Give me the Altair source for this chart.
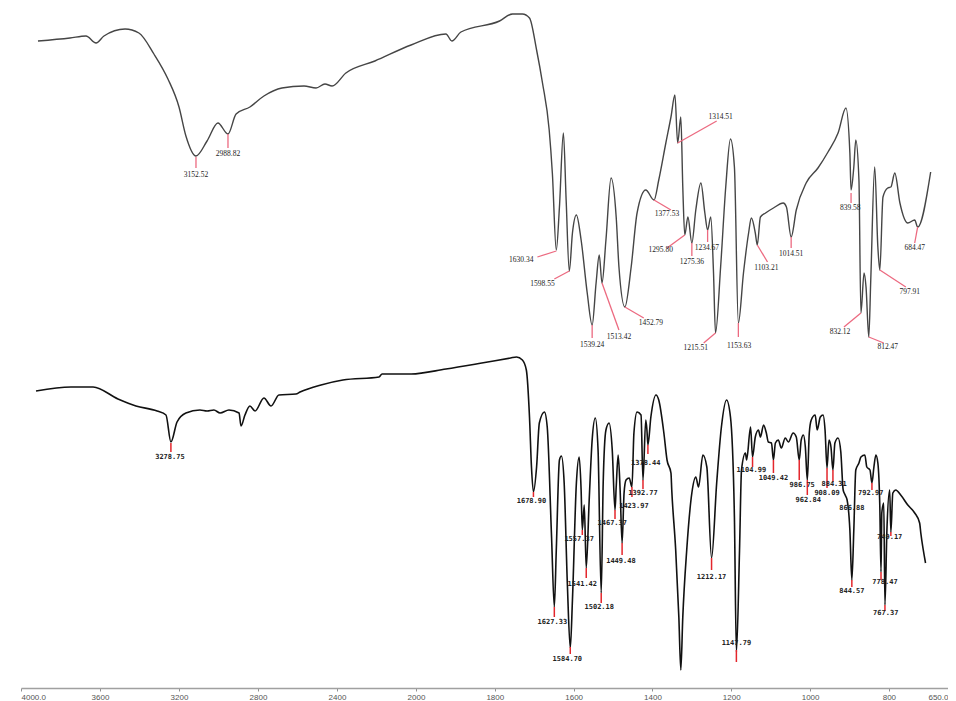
import altair as alt
import pandas as pd

# ---------------- spectra (wavenumber cm-1, transmittance a.u.) ----------------
top_wn = [3914, 3752, 3671, 3620, 3580, 3473, 3403, 3327, 3256, 3200, 3165, 3114, 3058, 3003, 2952,
          2911, 2841, 2770, 2679, 2567, 2506, 2461, 2425, 2355, 2208, 2025, 1924, 1909, 1886, 1788,
          1755, 1730, 1712, 1694, 1679, 1662, 1654, 1644, 1636, 1626, 1619, 1611, 1603, 1593, 1581,
          1565.5, 1553, 1543, 1535, 1528, 1518, 1505, 1492, 1485, 1470, 1454, 1439, 1417, 1396, 1384,
          1366, 1353, 1343, 1336, 1328, 1323, 1318, 1310, 1300, 1290, 1277, 1267, 1260, 1252, 1245,
          1240, 1227, 1214, 1202, 1192, 1182, 1169, 1156, 1149, 1139, 1134, 1126, 1113, 1093, 1068,
          1060, 1048, 1035, 1010, 980, 954.5, 929, 909, 899, 896, 889, 884, 876, 871, 863,
          858, 851, 846, 836, 828, 823, 815, 803, 795, 785, 772, 752, 734.5, 727, 694]
top_t = [647, 650, 652, 645, 652, 659, 655, 634, 609, 581, 552, 532, 547, 565, 554,
         574, 581, 592, 600, 602, 600, 604, 602, 615, 627, 643, 654, 647, 656, 667,
         674, 674, 670, 638, 605, 558, 515, 438, 481, 555, 488, 417, 455, 473, 448,
         395, 363, 405, 433, 405, 448, 510, 471, 421, 381, 421, 475, 498, 488, 508,
         545, 571, 593, 545, 571, 501, 453, 471, 445, 478, 505, 475, 458, 471, 415,
         355, 421, 501, 549, 521, 365, 415, 455, 470, 455, 443, 471, 475, 480, 485,
         481, 451, 478, 505, 520, 536, 555, 580, 535, 498, 521, 548, 508, 375, 415,
         401, 351, 408, 521, 441, 418, 491, 500, 501, 515, 485, 465, 468, 461, 516]

bot_wn = [3924, 3747, 3635, 3509, 3418, 3311, 3266, 3241, 3210, 3165, 3094, 3058, 3023, 2992, 2947,
          2896, 2886, 2866, 2841, 2815, 2770, 2734, 2694, 2608, 2587, 2481, 2370, 2187, 2172, 2025,
          1924, 1833, 1760, 1745, 1730, 1720, 1712, 1707, 1702, 1694, 1687, 1674, 1667, 1656, 1649,
          1644, 1636, 1631, 1624, 1616, 1608.5, 1603, 1593, 1586, 1581, 1578, 1573, 1568, 1560.5, 1553,
          1545, 1538, 1530, 1525, 1518, 1510, 1502, 1495, 1492, 1487, 1482, 1477, 1472, 1467, 1459,
          1452, 1447, 1439, 1429, 1424, 1417, 1414, 1411.5, 1404, 1391, 1384, 1371, 1363, 1353, 1351,
          1341, 1333, 1328, 1323, 1313, 1300, 1290, 1283, 1272, 1262, 1250, 1237, 1225, 1212, 1202,
          1192, 1187, 1179, 1174, 1164, 1161, 1151, 1146, 1139, 1131, 1126, 1118, 1111, 1106, 1098,
          1093, 1088, 1080.6, 1073, 1063, 1055, 1043, 1035, 1027.5, 1022.5, 1017, 1012, 1007, 1002, 997,
          987, 982, 974, 967, 962, 957, 952, 947, 942, 937, 929, 922, 916, 911, 906,
          899, 894, 889, 884, 876, 871, 861, 856, 848, 843, 838, 833, 828, 823, 820,
          818, 813, 810, 805, 798, 795, 790, 782.5, 770, 752, 734.5, 722, 719, 707]
bot_t = [297, 301, 301, 289, 282, 277, 273, 246, 266, 275, 278, 277, 278, 275, 278,
         275, 262, 273, 282, 277, 290, 282, 293, 294, 296, 303, 308, 311, 314, 314,
         319, 325, 330, 331, 328, 318, 271, 221, 196, 221, 265, 276, 261, 151, 81,
         138, 228, 232, 205, 105, 40, 88, 205, 231, 198, 158, 183, 120, 188, 248,
         270, 238, 95, 205, 258, 265, 238, 178, 201, 233, 198, 145, 195, 208, 210,
         201, 255, 276, 273, 208, 268, 258, 243, 271, 293, 288, 255, 228, 215, 198,
         138, 71, 18, 71, 138, 195, 211, 201, 233, 221, 130, 205, 261, 288, 271,
         171, 36, 138, 218, 235, 228, 261, 231, 251, 258, 251, 263, 255, 246, 245,
         228, 245, 248, 240, 250, 246, 255, 251, 228, 248, 253, 241, 208, 255, 268,
         273, 258, 271, 273, 258, 220, 248, 241, 218, 245, 250, 236, 198, 193, 188,
         158, 108, 158, 218, 225, 231, 233, 221, 218, 205, 221, 233, 225, 181, 116,
         175, 185, 83, 158, 198, 156, 195, 198, 193, 183, 175, 165, 155, 125]

# ---------------- peak annotations ----------------
peak_labels = ["3152.52", "2988.82", "1630.34", "1598.55", "1539.24", "1513.42", "1452.79",
               "1377.53", "1314.51", "1295.80", "1275.36", "1234.67", "1215.51", "1153.63",
               "1103.21", "1014.51", "839.58", "832.12", "812.47", "797.91", "684.47",
               "3278.75", "1678.90", "1627.33", "1584.70", "1557.37", "1541.42", "1502.18",
               "1467.37", "1449.48", "1423.97", "1392.77", "1378.44", "1212.17", "1147.79",
               "1104.99", "1049.42", "986.75", "962.84", "908.09", "884.31", "866.88",
               "844.57", "792.97", "778.47", "767.37", "749.17"]
peak_panel = ["top"] * 21 + ["bottom"] * 26
peak_wn = [3114, 2952, 1644, 1611, 1553, 1528, 1470, 1396, 1336, 1318, 1300, 1260, 1240, 1182,
           1134, 1048, 896, 871, 851, 823, 727,
           3241, 1702, 1649, 1608.5, 1578, 1568, 1530, 1495, 1477, 1452, 1424, 1411.5, 1250, 1187,
           1146, 1093, 1027.5, 1007, 957, 942, 894, 894, 843, 820, 810, 795]
peak_t = [531, 554, 437, 417, 363, 405, 381, 488, 545, 453, 445, 458, 355, 365,
          443, 451, 495, 375, 351, 418, 461,
          245, 196, 81, 41, 158, 120, 95, 178, 145, 201, 208, 243, 130, 38,
          231, 228, 228, 208, 220, 218, 180, 108, 205, 116, 83, 156]
lead_wn = [3114, 2952, 1692, 1649, 1553, 1485, 1422, 1353, 1237, 1363, 1300, 1260, 1270, 1182,
           1108, 1048, 896, 914, 813, 757, 734.5,
           3241, 1702, 1649, 1608.5, 1578, 1568, 1530, 1495, 1477, 1452, 1424, 1411.5, 1250, 1187,
           1146, 1093, 1027.5, 1007, 957, 942, 894, 894, 843, 820, 810, 795]
lead_t = [520, 540, 431, 409, 350, 358, 370, 478, 567, 440, 432, 446, 345, 351,
          426, 440, 485, 361, 345, 401, 445,
          236, 191, 71, 34, 153, 110, 85, 169, 133, 191, 199, 234, 118, 26,
          221, 215, 208, 193, 200, 206, 180, 101, 198, 108, 77, 152]
text_wn = [3114, 2952, 1733, 1679, 1553, 1485, 1404, 1363, 1227, 1379, 1300, 1262, 1290, 1180,
           1111, 1048, 898, 924, 803, 747, 734.5,
           3246, 1707, 1654, 1616, 1586, 1578, 1535, 1502, 1480, 1447, 1424, 1417, 1250, 1187,
           1149, 1093, 1020, 1004.6, 957, 939, 894, 894, 846, 810, 808, 798]
text_t = [513, 534, 428, 404, 343, 351, 365, 474, 571, 438, 426, 440, 340, 342,
          420, 434, 480, 356, 341, 396, 440,
          231, 187, 66, 29, 149, 104, 81, 165, 127, 182, 195, 225, 111, 45,
          218, 210, 203, 188, 195, 204, 180, 97, 195, 106, 75, 151]

# tick values of the wavenumber axis
tick_values = [4000, 3600, 3200, 2800, 2400, 2000, 1800, 1600, 1400, 1200, 1000, 800, 650]

spectra = pd.concat([
    pd.DataFrame({"wn": top_wn, "t": top_t, "trace": "top", "i": range(len(top_wn))}),
    pd.DataFrame({"wn": bot_wn, "t": bot_t, "trace": "bottom", "i": range(len(bot_wn))}),
])
peaks = pd.DataFrame({"label": peak_labels, "panel": peak_panel, "wn": peak_wn, "t": peak_t,
                      "lwn": lead_wn, "lt": lead_t, "twn": text_wn, "tt": text_t})

xscale = alt.Scale(domain=[4000, 2000, 650], range=[0, 395, 927])
yscale = alt.Scale(domain=[0, 680])
label_expr = ("datum.value == 4000 || datum.value == 650 ? format(datum.value, '.1f') "
              ": format(datum.value, 'd')")

xenc = alt.X("wn:Q", scale=xscale,
             axis=alt.Axis(values=tick_values, labelExpr=label_expr, title="cm-1",
                           grid=False, domainColor="#a0a0a0", domainWidth=1.5,
                           tickColor="#909090", tickSize=3, labelFontSize=8,
                           labelColor="#555555", labelFont="Liberation Sans",
                           labelPadding=2, titleFontSize=8, titleFont="Liberation Sans",
                           titleFontWeight="normal", titleColor="#555555", titlePadding=1))
yenc = alt.Y("t:Q", scale=yscale, axis=None)

top_line = alt.Chart(spectra).transform_filter("datum.trace == 'top'").mark_line(
    strokeWidth=1.4, strokeJoin="round", interpolate="monotone", color="#454545"
).encode(x=xenc, y=yenc, order="i:Q")

bot_line = alt.Chart(spectra).transform_filter("datum.trace == 'bottom'").mark_line(
    strokeWidth=1.6, strokeJoin="round", interpolate="monotone", color="#111111"
).encode(x=xenc, y=yenc, order="i:Q")

top_lead = alt.Chart(peaks).transform_filter("datum.panel == 'top'").mark_rule(
    strokeWidth=1.3, color="#ec6a80"
).encode(x=alt.X("wn:Q", scale=xscale), x2="lwn:Q",
         y=alt.Y("t:Q", scale=yscale), y2="lt:Q")

bot_lead = alt.Chart(peaks).transform_filter("datum.panel == 'bottom'").mark_rule(
    strokeWidth=1.5, color="#e3262c"
).encode(x=alt.X("wn:Q", scale=xscale), x2="lwn:Q",
         y=alt.Y("t:Q", scale=yscale), y2="lt:Q")

top_text = alt.Chart(peaks).transform_filter("datum.panel == 'top'").mark_text(
    fontSize=7.5, font="Liberation Serif", color="#222222", baseline="middle", align="center"
).encode(x=alt.X("twn:Q", scale=xscale), y=alt.Y("tt:Q", scale=yscale), text="label:N")

bot_text = alt.Chart(peaks).transform_filter("datum.panel == 'bottom'").mark_text(
    fontSize=7, font="DejaVu Sans Mono", fontWeight="bold", color="#222222",
    baseline="middle", align="center"
).encode(x=alt.X("twn:Q", scale=xscale), y=alt.Y("tt:Q", scale=yscale), text="label:N")

chart = alt.layer(top_line, bot_line, top_lead, bot_lead, top_text, bot_text).properties(
    width=927, height=680,
    autosize=alt.AutoSizeParams(type="none"),
    padding={"left": 13, "top": 0, "right": 0, "bottom": 12},
).configure(background="white").configure_view(strokeWidth=0)

chart.save("out.html", embed_options={"renderer": "svg", "actions": False})
